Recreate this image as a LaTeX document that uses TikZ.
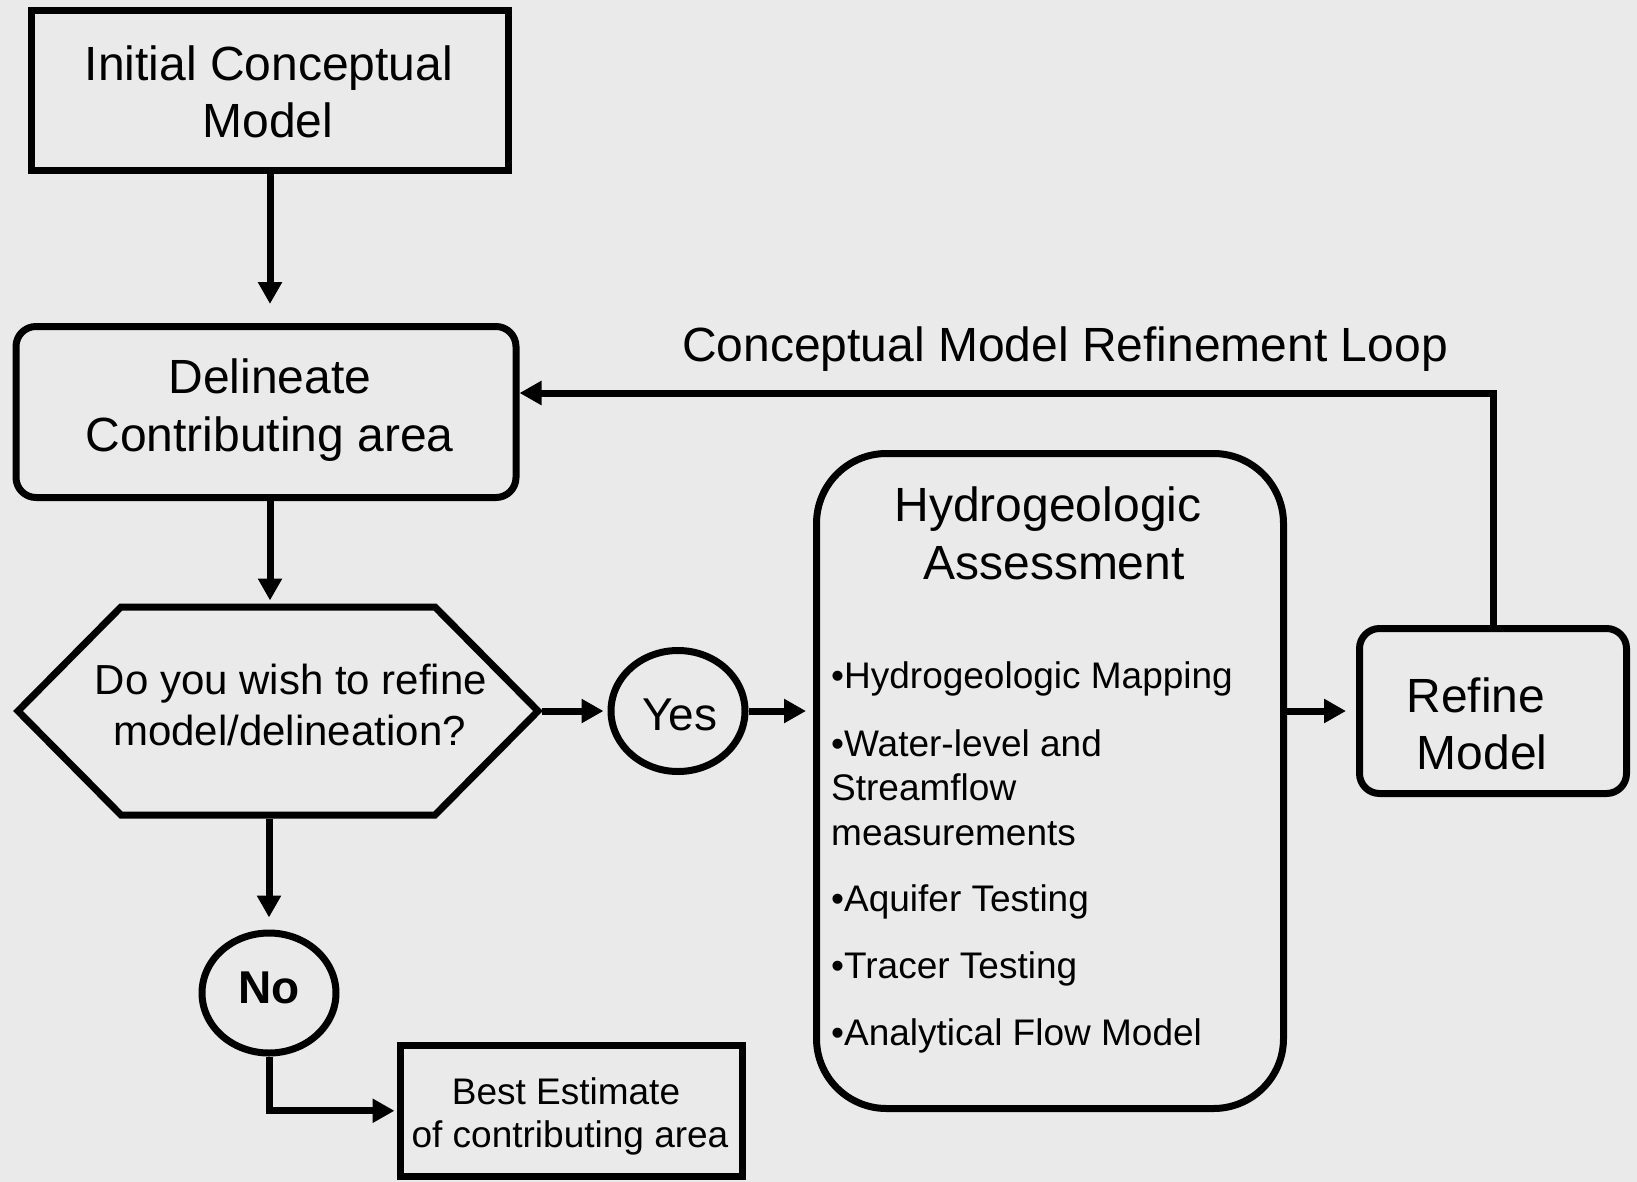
\documentclass[tikz,border=0pt]{standalone}
\usepackage{fontspec}
\setmainfont{Liberation Sans}
\usetikzlibrary{arrows.meta,calc,shapes.geometric}
\definecolor{bgc}{RGB}{234,234,234}
\newcommand\FntBig{\fontsize{48pt}{57pt}\selectfont}
\newcommand\FntHex{\fontsize{42pt}{50pt}\selectfont}
\newcommand\FntYN{\fontsize{46pt}{55pt}\selectfont}
\newcommand\FntSm{\fontsize{37pt}{44pt}\selectfont}
\begin{document}
\begin{tikzpicture}[x=1pt,y=-1pt,
  box/.style={draw=black,line width=7pt,inner sep=0pt},
  conn/.style={draw=black,line width=7pt,line join=miter,-{Triangle[length=22pt,width=23pt]}},
  txt/.style={inner sep=0pt,anchor=base},
  btxt/.style={inner sep=0pt,anchor=base west,font=\FntSm}]
\fill[bgc] (0,0) rectangle (1637,1182);
\useasboundingbox (0,0) rectangle (1637,1182);

% shapes
\node[box, minimum width=477.5pt, minimum height=159.5pt] (init) at (270,90.75) {};
\node[box, rounded corners=20pt, minimum width=500pt, minimum height=171pt] (delin) at (266,412) {};
\node[inner sep=0pt, outer sep=3.5pt, minimum width=520pt, minimum height=208pt] (hex) at (278,711) {};
\draw[line width=7pt, line join=miter] (hex.center) ++(-260,0) -- ++(103,-104) -- ++(314,0) -- ++(103,104) -- ++(-103,104) -- ++(-314,0) -- cycle;
\node[box, ellipse, minimum width=134pt, minimum height=121pt] (yes) at (678,711) {};
\node[box, ellipse, minimum width=134pt, minimum height=120pt] (no) at (269,993) {};
\node[box, rounded corners=70pt, minimum width=467pt, minimum height=655pt] (hydro) at (1050,781) {};
\node[box, rounded corners=20pt, minimum width=267pt, minimum height=165pt] (refine) at (1493,711) {};
\node[box, minimum width=342pt, minimum height=130.5pt] (best) at (571,1110.75) {};

% connectors
\draw[conn, shorten >=19pt] (init.south) -- (init.south |- delin.north);
\draw[conn, shorten >=3pt] (init.south |- delin.south) -- (init.south |- hex.north);
\draw[conn, shorten >=4pt] (hex.east) -- (yes.west);
\draw[conn, shorten >=7pt] (yes.east) -- (yes.east -| hydro.west);
\draw[conn, shorten >=10pt] (hydro.east |- refine.west) -- (refine.west);
\draw[conn, shorten >=12pt] (no.north |- hex.south) -- (no.north);
\draw[conn, shorten >=2pt] (no.south) |- (best.west);
\coordinate (loopc) at (refine.north |- {(0,393)});
\draw[conn] (refine.north) -- (loopc) -- (loopc -| delin.east);

% texts
\node[txt, font=\FntBig] (t1a) at (269,80.5) {Initial Conceptual};
\node[txt, font=\FntBig] (t1b) at (268,138) {Model};
\node[txt, font=\FntBig] (t2a) at (270,393.5) {Delineate};
\node[txt, font=\FntBig] (t2b) at (269.5,451) {Contributing area};
\node[txt, font=\FntHex] (t3a) at (291,694.5) {Do you wish to refine};
\node[txt, font=\FntHex] (t3b) at (289.5,745) {model/delineation?};
\node[txt, font=\FntYN] (tyes) at (680,730.5) {Yes};
\node[txt, font=\FntYN\bfseries] (tno) at (269,1003.5) {No};
\node[txt, font=\FntBig] (tloop) at (1065,361.5) {Conceptual Model Refinement Loop};
\node[txt, font=\FntBig] (th1) at (1048,521) {Hydrogeologic};
\node[txt, font=\FntBig] (th2) at (1054,579) {Assessment};
\node[btxt] (b1) at (831,688) {•Hydrogeologic Mapping};
\node[btxt] (b2a) at (831,756) {•Water-level and};
\node[btxt] (b2b) at (831,800) {Streamflow};
\node[btxt] (b2c) at (831,845) {measurements};
\node[btxt] (b3) at (831,911) {•Aquifer Testing};
\node[btxt] (b4) at (831,978) {•Tracer Testing};
\node[btxt] (b5) at (831,1045) {•Analytical Flow Model};
\node[txt, font=\FntBig] (tr1) at (1476,712) {Refine};
\node[txt, font=\FntBig] (tr2) at (1482,769) {Model};
\node[txt, font=\FntSm] (tb1) at (566,1104) {Best Estimate};
\node[txt, font=\FntSm] (tb2) at (570,1147) {of contributing area};
\end{tikzpicture}
\end{document}
